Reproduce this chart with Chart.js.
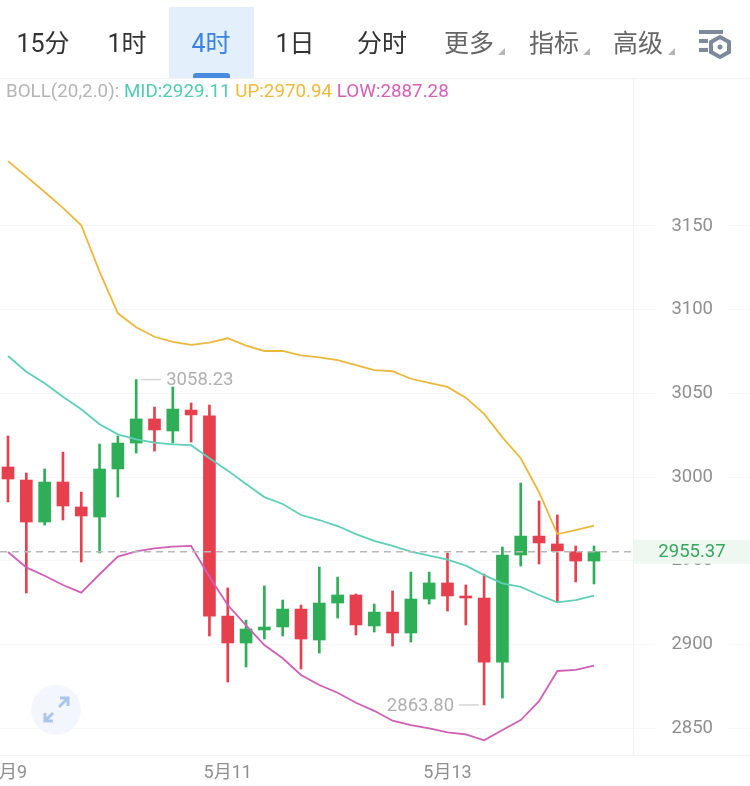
<!DOCTYPE html>
<html>
<head>
<meta charset="utf-8">
<script src="https://cdn.jsdelivr.net/npm/chart.js@4/dist/chart.umd.js"></script>
<style>
  html, body { margin: 0; padding: 0; background: #fff; width: 750px; height: 786px; overflow: hidden; }
  body { position: relative; font-family: Roboto, 'Noto Sans CJK SC', sans-serif; }
  canvas { position: absolute; left: 0; top: 0; }
  .tab { position: absolute; top: 24px; height: 40px; line-height: 40px; font-size: 25px; color: #333; transform: translateX(-50%); white-space: nowrap; }
  .tab.more { color: #666; }
  .tab.on { color: #3a83e0; }
  .active-bg { position: absolute; left: 169px; top: 7px; width: 85px; height: 71px; background: #e3effb; }
  .active-mark { position: absolute; left: 193px; top: 73px; width: 37px; height: 5px; background: #4a8adf; border-radius: 3px 3px 0 0; }
  .corner { position: absolute; top: 48px; width: 0; height: 0; border-left: 7px solid transparent; border-bottom: 7px solid #b5b5b5; }
  .rule { position: absolute; left: 0; top: 78px; width: 750px; height: 1px; background: #f3f3f3; }
  .boll { position: absolute; left: 6px; top: 80px; font-size: 18.8px; line-height: 22px; white-space: pre; color: #b5b5b5; }
  svg { position: absolute; }
</style>
</head>
<body>
<canvas id="kline" width="750" height="786"></canvas>
<div class="active-bg"></div>
<div class="active-mark"></div>
<div class="tab" style="left:43px">15分</div>
<div class="tab" style="left:127px">1时</div>
<div class="tab on" style="left:211px">4时</div>
<div class="tab" style="left:295px">1日</div>
<div class="tab" style="left:382px">分时</div>
<div class="tab more" style="left:469px">更多</div>
<div class="tab more" style="left:554px">指标</div>
<div class="tab more" style="left:638px">高级</div>
<div class="corner" style="left:498px"></div>
<div class="corner" style="left:583px"></div>
<div class="corner" style="left:668px"></div>
<div class="rule"></div>
<svg style="left:697px;top:28px" width="36" height="32" viewBox="0 0 36 32">
  <rect x="2" y="2" width="24" height="4" fill="#7d8a9c"/>
  <rect x="2" y="11" width="9" height="4" fill="#7d8a9c"/>
  <rect x="2" y="20" width="9" height="4" fill="#7d8a9c"/>
  <path d="M23 9 L32 14 L32 24 L23 29 L14 24 L14 14 Z" fill="none" stroke="#7d8a9c" stroke-width="4"/>
  <circle cx="23" cy="19" r="2.5" fill="#7d8a9c"/>
</svg>
<div class="boll">BOLL(20,2.0): <span style="color:#4fcdb0">MID:2929.11</span> <span style="color:#f0b93a">UP:2970.94</span> <span style="color:#d65fb8">LOW:2887.28</span></div>
<svg style="left:30px;top:684px" width="52" height="52" viewBox="0 0 52 52">
  <circle cx="26" cy="26" r="25" fill="#f3f7fd"/>
  <path d="M29 23 L38 14 M30 14 L38 14 L38 22 M23 29 L15 37 M15 29 L15 37 L23 37" fill="none" stroke="#a9c6ec" stroke-width="3"/>
</svg>
<script>
const opens = [3006.0, 2998.2, 2973.1, 2997.0, 2982.1, 2976.1, 3004.8, 3020.3, 3034.7, 3027.5, 3040.0, 3036.5, 2916.9, 2900.8, 2908.6, 2910.4, 2921.1, 2902.6, 2924.7, 2929.5, 2911.0, 2919.3, 2906.8, 2927.1, 2936.7, 2928.9, 2927.7, 2889.4, 2953.4, 2964.7, 2960.0, 2955.4, 2949.8]
const closes = [2998.8, 2973.1, 2997.0, 2982.7, 2976.7, 3004.8, 3020.3, 3034.7, 3028.1, 3040.6, 3037.1, 2916.9, 2900.8, 2909.2, 2910.4, 2921.1, 2903.2, 2924.7, 2929.5, 2911.6, 2919.3, 2906.8, 2927.1, 2936.7, 2928.9, 2927.7, 2889.4, 2953.4, 2964.7, 2960.6, 2955.8, 2949.8, 2955.37]
const highs = [3024.5, 3002.4, 3004.8, 3014.9, 2991.0, 3019.7, 3024.5, 3058.23, 3041.8, 3053.8, 3044.2, 3043.0, 2933.7, 2914.5, 2934.9, 2926.5, 2923.5, 2946.2, 2940.2, 2930.1, 2924.1, 2931.9, 2943.2, 2943.2, 2954.6, 2935.5, 2942.0, 2958.2, 2996.4, 2985.7, 2977.3, 2958.8, 2958.8]
const lows = [2985.1, 2930.7, 2971.3, 2974.3, 2949.2, 2954.6, 2988.0, 3014.3, 3015.5, 3020.3, 3020.9, 2905.0, 2877.5, 2886.5, 2903.2, 2905.0, 2885.3, 2894.8, 2915.7, 2905.6, 2907.4, 2899.0, 2901.4, 2924.1, 2919.9, 2911.6, 2863.8, 2867.9, 2946.8, 2948.0, 2925.3, 2937.3, 2936.1]
const upBand = [3188.7, 3179.6, 3170.3, 3160.8, 3150.4, 3122.7, 3097.8, 3089.5, 3083.8, 3080.7, 3078.9, 3080.3, 3082.9, 3078.5, 3075.3, 3075.3, 3072.7, 3071.5, 3069.9, 3066.9, 3063.8, 3063.2, 3058.7, 3056.2, 3053.8, 3047.4, 3037.7, 3023.7, 3011.2, 2990.9, 2965.9, 2968.3, 2970.94]
const midBand = [3072.3, 3062.9, 3056.0, 3048.0, 3040.5, 3031.5, 3025.5, 3022.5, 3020.5, 3019.5, 3019.0, 3011.2, 3003.8, 2995.8, 2988.0, 2983.9, 2977.3, 2974.3, 2970.7, 2965.9, 2961.9, 2958.8, 2955.4, 2953.0, 2950.6, 2947.0, 2941.4, 2936.5, 2934.3, 2929.5, 2925.1, 2926.5, 2929.11]
const lowBand = [2955.2, 2946.0, 2941.0, 2935.5, 2930.9, 2941.9, 2952.4, 2955.6, 2957.4, 2958.4, 2958.8, 2940.4, 2923.5, 2911.3, 2899.6, 2891.7, 2881.7, 2875.7, 2871.1, 2865.1, 2860.3, 2854.4, 2851.8, 2849.8, 2847.4, 2846.2, 2842.7, 2848.8, 2854.8, 2866.1, 2884.1, 2884.7, 2887.28]
const yTicks = [2850, 2900, 2950, 3000, 3050, 3100, 3150]
const xTicks = [0, 12, 24]
const xTickLabels = ['5月9', '5月11', '5月13']
const lastPrice = 2955.37
const maxIndex = 7
const minIndex = 26

const RED = '#e6404f'
const GREEN = '#2fae58'
const FONT = "Roboto, 'Noto Sans CJK SC', sans-serif"
const candleColors = closes.map((c, i) => (c >= opens[i] ? GREEN : RED))

function line(values, color) {
  return {
    type: 'line',
    data: values.map((y, x) => ({ x, y })),
    borderColor: color,
    borderWidth: 1.8,
    pointRadius: 0,
    tension: 0,
    order: 0
  }
}

// price tag, dashed last-price line, hi/lo notes and the separator by the axis
const overlay = {
  id: 'overlay',
  afterDatasetsDraw(chart) {
    const { ctx, chartArea: area, scales: { x, y } } = chart
    const sep = 633
    ctx.save()

    ctx.strokeStyle = '#f1f1f1'
    ctx.lineWidth = 1
    ctx.beginPath()
    ctx.moveTo(sep + 0.5, area.top)
    ctx.lineTo(sep + 0.5, area.bottom)
    ctx.stroke()

    const py = y.getPixelForValue(lastPrice)
    ctx.fillStyle = '#eef8f1'
    ctx.fillRect(sep, py - 12, 750 - sep, 24)
    ctx.fillStyle = '#36a75f'
    ctx.font = '18.5px ' + FONT
    ctx.textAlign = 'center'
    ctx.textBaseline = 'middle'
    ctx.fillText(lastPrice.toFixed(2), 692, py + 1)

    ctx.strokeStyle = '#b9b9b9'
    ctx.lineWidth = 1.5
    ctx.setLineDash([7, 5])
    ctx.beginPath()
    ctx.moveTo(0, py)
    ctx.lineTo(sep, py)
    ctx.stroke()
    ctx.setLineDash([])

    ctx.strokeStyle = '#d5d5d5'
    ctx.fillStyle = '#b0b0b0'
    const hx = x.getPixelForValue(maxIndex)
    const hy = y.getPixelForValue(highs[maxIndex])
    ctx.beginPath()
    ctx.moveTo(hx + 5, hy)
    ctx.lineTo(hx + 25, hy)
    ctx.stroke()
    ctx.textAlign = 'left'
    ctx.fillText(highs[maxIndex].toFixed(2), hx + 30, hy + 1)

    const lx = x.getPixelForValue(minIndex)
    const ly = y.getPixelForValue(lows[minIndex])
    ctx.beginPath()
    ctx.moveTo(lx - 5, ly)
    ctx.lineTo(lx - 25, ly)
    ctx.stroke()
    ctx.textAlign = 'right'
    ctx.fillText(lows[minIndex].toFixed(2), lx - 30, ly + 1)

    ctx.restore()
  }
}

new Chart(document.getElementById('kline'), {
  type: 'bar',
  plugins: [overlay],
  data: {
    datasets: [
      line(upBand, '#ecb83c'),
      line(midBand, '#5ed0b8'),
      line(lowBand, '#cf5fb7'),
      {
        data: opens.map((o, x) => ({ x, y: [o, closes[x]] })),
        backgroundColor: candleColors,
        barThickness: 12,
        grouped: false,
        order: 1
      },
      {
        data: highs.map((h, x) => ({ x, y: [lows[x], h] })),
        backgroundColor: candleColors,
        barThickness: 2,
        grouped: false,
        order: 2
      }
    ]
  },
  options: {
    responsive: false,
    animation: false,
    layout: { padding: { top: 78, left: 0, right: 0, bottom: 0 } },
    plugins: { legend: { display: false }, tooltip: { enabled: false } },
    scales: {
      x: {
        type: 'linear',
        bounds: 'data',
        offset: false,
        min: -0.437,
        max: 40.52,
        grid: { display: false, drawTicks: false },
        border: { color: '#f1f1f1' },
        afterBuildTicks(scale) { scale.ticks = xTicks.map(value => ({ value })) },
        afterFit(scale) {
          scale.height = 31
          scale.paddingLeft = 0
          scale.paddingRight = 0
        },
        ticks: {
          autoSkip: false,
          maxRotation: 0,
          padding: 8,
          color: '#8f8f8f',
          font: { family: FONT, size: 18 },
          callback: value => xTickLabels[xTicks.indexOf(value)]
        }
      },
      y: {
        position: 'right',
        bounds: 'data',
        min: 2833.9,
        max: 3238.4,
        grid: { color: '#f6f6f6', drawTicks: false },
        border: { display: false },
        afterBuildTicks(scale) { scale.ticks = yTicks.map(value => ({ value })) },
        afterFit(scale) {
          // mirrored labels sit inside the plot, the axis takes no width
          scale.width = 0
          scale.paddingTop = 0
          scale.paddingBottom = 0
        },
        ticks: {
          mirror: true,
          padding: -37,
          color: '#8f8f8f',
          font: { family: FONT, size: 18.5 },
          callback: value => String(value),
          showLabelBackdrop: true,
          backdropColor: '#ffffff',
          backdropPadding: { left: 16, right: 16, top: 0, bottom: 0 }
        }
      }
    }
  }
})
</script>
</body>
</html>
